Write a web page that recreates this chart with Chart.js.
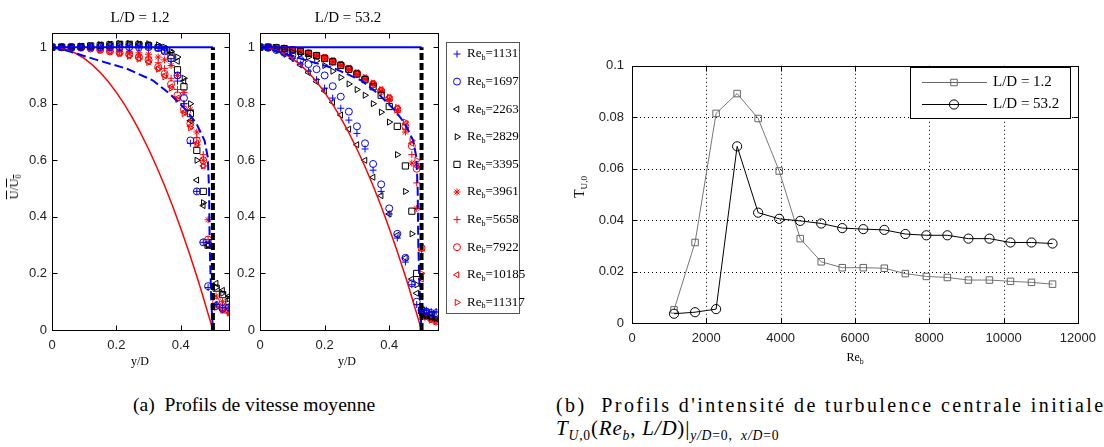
<!DOCTYPE html>
<html>
<head>
<meta charset="utf-8">
<title>Profils de vitesse moyenne et intensité de turbulence</title>
<script src="https://cdn.jsdelivr.net/npm/chart.js@4.4.1/dist/chart.umd.min.js"></script>
<style>
  body { margin: 0; width: 1104px; height: 447px; background: #fff; position: relative; overflow: hidden;
         font-family: "Liberation Serif", "Times New Roman", serif; color: #000; }
  canvas { position: absolute; }
  .t { position: absolute; white-space: nowrap; line-height: 1; }
  .c { transform: translate(-50%, -50%); }
  .rot { transform: translate(-50%, -50%) rotate(-90deg); }
  .sub { font-size: 0.65em; position: relative; top: 0.35em; }
  .ov { text-decoration: overline; }
</style>
</head>
<body>

<canvas id="cNear" width="235" height="340" style="left:0;top:20px"></canvas>
<canvas id="cFar" width="293" height="340" style="left:232px;top:20px"></canvas>
<canvas id="cTu" width="544" height="300" style="left:560px;top:50px"></canvas>

<div class="t c" style="left:140px;top:17px;font-size:15px">L/D = 1.2</div>
<div class="t c" style="left:348px;top:17px;font-size:15px">L/D = 53.2</div>
<div class="t c" style="left:140px;top:361px;font-size:12px">y/D</div>
<div class="t c" style="left:347px;top:361px;font-size:12px">y/D</div>
<div class="t rot" style="left:14px;top:187px;font-size:12px"><span class="ov">U</span>/<span class="ov">U<span class="sub">0</span></span></div>
<div class="t rot" style="left:580px;top:187px;font-size:14px">T<span class="sub">U,0</span></div>
<div class="t c" style="left:855px;top:357px;font-size:12px">Re<span class="sub">b</span></div>

<div class="t" style="left:133px;top:395px;font-size:19.6px">(a)&nbsp; Profils de vitesse moyenne</div>
<div class="t" style="left:556px;top:395px;font-size:20px;letter-spacing:2.4px">(b)&nbsp; Profils d'intensité de turbulence centrale initiale</div>
<div class="t" style="left:556px;top:418px;font-size:21px;letter-spacing:0.8px"><i>T</i><span class="sub"><i>U</i>,0</span>(<i>Re</i><span class="sub"><i>b</i></span>, <i>L/D</i>)|<span class="sub"><i>y/D</i>=0, &nbsp;<i>x/D</i>=0</span></div>

<script>
// tick values
const profileXTicks = [0, 0.2, 0.4];
const profileYTicks = [0, 0.2, 0.4, 0.6, 0.8, 1];
const reXTicks = [0, 2000, 4000, 6000, 8000, 10000, 12000];
const tuYTicks = [0, 0.02, 0.04, 0.06, 0.08, 0.1];

// Reynolds numbers in the velocity legend
const reLabels = ['1131', '1697', '2263', '2829', '3395', '3961', '5658', '7922', '10185', '11317'];

// reference curves
const laminarX = [0, 0.05, 0.1, 0.15, 0.2, 0.25, 0.3, 0.35, 0.4, 0.45, 0.5];
const laminarY = [1, 0.99, 0.96, 0.91, 0.84, 0.75, 0.64, 0.51, 0.36, 0.19, 0];
const turbX = [0, 0.045, 0.139, 0.232, 0.314, 0.366, 0.418, 0.449, 0.474, 0.484, 0.488, 0.49, 0.495, 0.5];
const turbY = [1, 0.988, 0.955, 0.924, 0.882, 0.835, 0.776, 0.729, 0.67, 0.611, 0.5, 0.3, 0.1, 0];
const plugX = [0, 0.5];
const plugY = [1, 1];
const wallX = [0.5, 0.5];
const wallY = [0, 1];

// L/D = 1.2 profiles
const posNear = [0, 0.03, 0.06, 0.09, 0.12, 0.15, 0.18, 0.21, 0.24, 0.27, 0.30, 0.33, 0.35, 0.37, 0.39, 0.41, 0.43, 0.45, 0.47, 0.485, 0.51, 0.53, 0.55];
const near1131 = [1, 1, 1, 1, 1, 1, 1, 1, 1, 1, 1, 0.995, 0.99, 0.95, 0.88, 0.80, 0.66, 0.49, 0.31, 0.15, 0.09, 0.08, 0.075];
const near1697 = [1, 1, 1, 1, 1, 1, 1, 1, 1, 1, 1, 0.997, 0.985, 0.96, 0.90, 0.82, 0.67, 0.49, 0.31, 0.155, 0.085, 0.075, 0.08];
const near2263 = [1, 1, 1, 1.003, 1.005, 1.008, 1.01, 1.01, 1.01, 1.01, 1.008, 1.003, 0.995, 0.98, 0.95, 0.88, 0.74, 0.53, 0.44, 0.30, 0.165, 0.14, 0.12];
const near2829 = [1, 1, 1, 1.004, 1.006, 1.009, 1.011, 1.013, 1.013, 1.013, 1.012, 1.008, 1.0, 0.985, 0.965, 0.89, 0.80, 0.60, 0.45, 0.30, 0.15, 0.13, 0.11];
const near3395 = [1, 1, 1, 1.002, 1.004, 1.006, 1.008, 1.01, 1.01, 1.008, 1.005, 0.998, 0.99, 0.97, 0.92, 0.86, 0.765, 0.635, 0.49, 0.30, 0.148, 0.125, 0.10];
const near3961 = [1, 1, 1, 1, 1, 0.998, 0.995, 0.99, 0.985, 0.98, 0.975, 0.965, 0.955, 0.935, 0.90, 0.84, 0.78, 0.70, 0.60, 0.39, 0.12, 0.10, 0.08];
const near5658 = [1, 1, 1, 1, 0.998, 0.995, 0.99, 0.985, 0.98, 0.972, 0.962, 0.945, 0.925, 0.89, 0.85, 0.80, 0.74, 0.68, 0.62, 0.32, 0.09, 0.07, 0.06];
const near7922 = [1, 1, 1, 0.998, 0.995, 0.99, 0.985, 0.98, 0.975, 0.965, 0.955, 0.93, 0.905, 0.87, 0.83, 0.78, 0.73, 0.67, 0.60, 0.32, 0.10, 0.08, 0.07];
const near10185 = [1, 1, 1, 0.998, 0.995, 0.99, 0.985, 0.978, 0.97, 0.96, 0.948, 0.925, 0.90, 0.86, 0.82, 0.77, 0.72, 0.66, 0.58, 0.30, 0.09, 0.07, 0.06];
const near11317 = [1, 1, 1, 0.998, 0.995, 0.99, 0.984, 0.977, 0.968, 0.958, 0.946, 0.922, 0.895, 0.855, 0.815, 0.765, 0.715, 0.655, 0.58, 0.30, 0.08, 0.07, 0.06];

// L/D = 53.2 profiles
const posFar = [0, 0.025, 0.05, 0.075, 0.1, 0.125, 0.15, 0.175, 0.2, 0.225, 0.25, 0.275, 0.3, 0.325, 0.35, 0.375, 0.4, 0.425, 0.45, 0.47, 0.485, 0.5, 0.515, 0.53, 0.545];
const far1131 = [1, 0.997, 0.988, 0.975, 0.96, 0.94, 0.915, 0.885, 0.855, 0.82, 0.784, 0.742, 0.695, 0.64, 0.565, 0.49, 0.41, 0.325, 0.24, 0.16, 0.09, 0.07, 0.07, 0.065, 0.065];
const far1697 = [1, 0.998, 0.99, 0.98, 0.97, 0.955, 0.94, 0.922, 0.9, 0.862, 0.825, 0.772, 0.72, 0.66, 0.587, 0.515, 0.43, 0.34, 0.255, 0.165, 0.1, 0.07, 0.065, 0.06, 0.06];
const far2263 = [1, 0.997, 0.99, 0.977, 0.96, 0.937, 0.91, 0.878, 0.845, 0.805, 0.76, 0.71, 0.655, 0.6, 0.54, 0.475, 0.41, 0.335, 0.255, 0.18, 0.13, 0.06, 0.05, 0.045, 0.04];
const far2829 = [1, 0.998, 0.995, 0.99, 0.983, 0.975, 0.965, 0.952, 0.935, 0.915, 0.893, 0.87, 0.85, 0.83, 0.8, 0.77, 0.735, 0.62, 0.49, 0.34, 0.16, 0.06, 0.05, 0.045, 0.04];
const far3395 = [1, 1, 0.998, 0.995, 0.99, 0.985, 0.978, 0.97, 0.96, 0.948, 0.935, 0.922, 0.905, 0.885, 0.86, 0.83, 0.79, 0.72, 0.58, 0.42, 0.2, 0.07, 0.06, 0.05, 0.05];
const far3961 = [1, 1, 0.998, 0.994, 0.99, 0.985, 0.978, 0.97, 0.962, 0.95, 0.937, 0.922, 0.905, 0.888, 0.87, 0.845, 0.815, 0.775, 0.7, 0.59, 0.43, 0.06, 0.05, 0.04, 0.035];
const far5658 = [1, 1, 0.998, 0.994, 0.99, 0.984, 0.977, 0.969, 0.96, 0.948, 0.935, 0.92, 0.903, 0.885, 0.865, 0.84, 0.81, 0.77, 0.71, 0.62, 0.52, 0.28, 0.05, 0.04, 0.035];
const far7922 = [1, 1, 0.998, 0.995, 0.99, 0.985, 0.978, 0.97, 0.962, 0.95, 0.937, 0.922, 0.906, 0.888, 0.868, 0.845, 0.818, 0.78, 0.72, 0.65, 0.57, 0.29, 0.05, 0.04, 0.03];
const far10185 = [1, 1, 0.998, 0.995, 0.99, 0.985, 0.979, 0.971, 0.963, 0.952, 0.94, 0.926, 0.91, 0.892, 0.872, 0.85, 0.822, 0.785, 0.73, 0.66, 0.58, 0.18, 0.045, 0.04, 0.03];
const far11317 = [1, 1, 0.998, 0.995, 0.99, 0.985, 0.979, 0.971, 0.963, 0.952, 0.94, 0.926, 0.91, 0.893, 0.873, 0.85, 0.823, 0.787, 0.735, 0.67, 0.6, 0.2, 0.045, 0.035, 0.03];

// initial centreline turbulence intensity vs Re_b
const reNumbers = [1131, 1697, 2263, 2829, 3395, 3961, 4527, 5092, 5658, 6224, 6790, 7356, 7922, 8487, 9053, 9619, 10185, 10750, 11317];
const tuNear = [0.0051, 0.0313, 0.0815, 0.0892, 0.0795, 0.0591, 0.0328, 0.0238, 0.0215, 0.0215, 0.0213, 0.0192, 0.0181, 0.0177, 0.0167, 0.0167, 0.0162, 0.0158, 0.0151];
const tuFar = [0.0036, 0.0042, 0.0054, 0.0687, 0.0429, 0.0405, 0.0397, 0.0387, 0.0369, 0.0365, 0.0362, 0.0346, 0.0341, 0.0341, 0.0328, 0.0328, 0.0313, 0.0313, 0.0309];

// marker look for each Re_b (same order as reLabels)
const markerLook = [
    { style: 'cross', rot: 0, color: '#0000ff', r: 3.5 },
    { style: 'circle', rot: 0, color: '#0000ff', r: 3.5 },
    { style: 'triangle', rot: -90, color: '#000000', r: 3.5 },
    { style: 'triangle', rot: 90, color: '#000000', r: 3.5 },
    { style: 'rect', rot: 0, color: '#000000', r: 4.4 },
    { style: 'star', rot: 0, color: '#ff0000', r: 3.5 },
    { style: 'cross', rot: 0, color: '#ff0000', r: 3.5 },
    { style: 'circle', rot: 0, color: '#ff0000', r: 3.5 },
    { style: 'triangle', rot: -90, color: '#ff0000', r: 3.5 },
    { style: 'triangle', rot: 90, color: '#ff0000', r: 3.5 }
];

const nearProfiles = [near1131, near1697, near2263, near2829, near3395, near3961, near5658, near7922, near10185, near11317];
const farProfiles = [far1131, far1697, far2263, far2829, far3395, far3961, far5658, far7922, far10185, far11317];

const tickFont = { family: '"Liberation Sans", Arial, sans-serif', size: 13 };
const serifStack = '"Liberation Serif", "Times New Roman", serif';

function pairs(xs, ys) {
    return xs.map((x, i) => ({ x: x, y: ys[i] }));
}

function drawMarker(ctx, look, x, y) {
    ctx.save();
    ctx.strokeStyle = look.color;
    ctx.fillStyle = 'rgba(0,0,0,0)';
    ctx.lineWidth = 1;
    if (Chart.helpers && Chart.helpers.drawPoint) {
        Chart.helpers.drawPoint(ctx, { pointStyle: look.style, rotation: look.rot, radius: look.r, borderWidth: 1 }, x, y);
    } else {
        ctx.beginPath();
        ctx.arc(x, y, look.r, 0, Math.PI * 2);
        ctx.stroke();
    }
    ctx.restore();
}

// box, inward ticks and (optionally) dotted grid, like the matlab axes
const framePlugin = {
    id: 'frame',
    beforeDatasetsDraw(chart, args, opts) {
        if (!opts.grid) return;
        const ctx = chart.ctx, a = chart.chartArea, sx = chart.scales.x, sy = chart.scales.y;
        ctx.save();
        ctx.strokeStyle = '#000';
        ctx.lineWidth = 1;
        ctx.setLineDash([1, 3]);
        sx.ticks.forEach(t => {
            const px = Math.round(sx.getPixelForValue(t.value)) + 0.5;
            if (px > a.left + 2 && px < a.right - 2) {
                ctx.beginPath(); ctx.moveTo(px, a.top); ctx.lineTo(px, a.bottom); ctx.stroke();
            }
        });
        sy.ticks.forEach(t => {
            const py = Math.round(sy.getPixelForValue(t.value)) + 0.5;
            if (py > a.top + 2 && py < a.bottom - 2) {
                ctx.beginPath(); ctx.moveTo(a.left, py); ctx.lineTo(a.right, py); ctx.stroke();
            }
        });
        ctx.restore();
    },
    afterDraw(chart, args, opts) {
        const ctx = chart.ctx, a = chart.chartArea, sx = chart.scales.x, sy = chart.scales.y;
        const L = Math.round(a.left) + 0.5, R = Math.round(a.right) + 0.5;
        const T = Math.round(a.top) + 0.5, B = Math.round(a.bottom) + 0.5;
        const len = opts.tick || 5;
        ctx.save();
        ctx.strokeStyle = '#000';
        ctx.lineWidth = 1;
        ctx.strokeRect(L, T, R - L, B - T);
        ctx.beginPath();
        sx.ticks.forEach(t => {
            const px = Math.round(sx.getPixelForValue(t.value)) + 0.5;
            ctx.moveTo(px, B); ctx.lineTo(px, B - len);
            ctx.moveTo(px, T); ctx.lineTo(px, T + len);
        });
        sy.ticks.forEach(t => {
            const py = Math.round(sy.getPixelForValue(t.value)) + 0.5;
            ctx.moveTo(L, py); ctx.lineTo(L + len, py);
            ctx.moveTo(R, py); ctx.lineTo(R - len, py);
        });
        ctx.stroke();
        ctx.restore();
    }
};

// Re_b legend to the right of the L/D = 53.2 panel
const reLegendPlugin = {
    id: 'reLegend',
    afterDraw(chart) {
        const ctx = chart.ctx;
        const ox = -232, oy = -20;
        ctx.save();
        ctx.fillStyle = '#fff';
        ctx.fillRect(446 + ox, 42 + oy, 73, 271);
        ctx.strokeStyle = '#555';
        ctx.lineWidth = 1;
        ctx.strokeRect(446.5 + ox, 42.5 + oy, 73, 271);
        reLabels.forEach((lab, i) => {
            const y = 54 + i * 27.6 + oy;
            drawMarker(ctx, markerLook[i], 457 + ox, y);
            ctx.fillStyle = '#000';
            ctx.textBaseline = 'middle';
            ctx.font = '13px ' + serifStack;
            let x = 467 + ox;
            ctx.fillText('Re', x, y);
            x += ctx.measureText('Re').width;
            ctx.font = '8px ' + serifStack;
            ctx.fillText('b', x, y + 4);
            x += ctx.measureText('b').width;
            ctx.font = '13px ' + serifStack;
            ctx.fillText('=' + lab, x, y);
        });
        ctx.restore();
    }
};

// L/D legend inside the turbulence panel
const tuLegendPlugin = {
    id: 'tuLegend',
    afterDraw(chart) {
        const ctx = chart.ctx;
        const ox = -560, oy = -50;
        const rows = [
            { text: 'L/D = 1.2', look: { style: 'rect', rot: 0, color: '#666', r: 4.6 }, line: '#666', y: 82 },
            { text: 'L/D = 53.2', look: { style: 'circle', rot: 0, color: '#000', r: 4.6 }, line: '#000', y: 104 }
        ];
        ctx.save();
        ctx.fillStyle = '#fff';
        ctx.fillRect(910 + ox, 67 + oy, 160, 51);
        ctx.strokeStyle = '#000';
        ctx.lineWidth = 1;
        ctx.strokeRect(910.5 + ox, 67.5 + oy, 160, 51);
        rows.forEach(r => {
            const y = r.y + oy + 0.5;
            ctx.strokeStyle = r.line;
            ctx.beginPath(); ctx.moveTo(922 + ox, y); ctx.lineTo(987 + ox, y); ctx.stroke();
            drawMarker(ctx, r.look, 954 + ox, y);
            ctx.fillStyle = '#000';
            ctx.textBaseline = 'middle';
            ctx.font = '15px ' + serifStack;
            ctx.fillText(r.text, 993 + ox, y);
        });
        ctx.restore();
    }
};

function profileDatasets(positions, profiles) {
    const lines = [
        { data: pairs(wallX, wallY), showLine: true, pointRadius: 0, borderColor: '#000', borderWidth: 4, borderDash: [7, 3] },
        { data: pairs(plugX, plugY), showLine: true, pointRadius: 0, borderColor: '#0000ff', borderWidth: 2 },
        { data: pairs(turbX, turbY), showLine: true, pointRadius: 0, borderColor: '#0000ff', borderWidth: 2, borderDash: [9, 4] },
        { data: pairs(laminarX, laminarY), showLine: true, pointRadius: 0, borderColor: '#ff0000', borderWidth: 1.5, cubicInterpolationMode: 'monotone' }
    ];
    const markers = profiles.map((ys, i) => {
        const m = markerLook[i];
        return {
            data: pairs(positions, ys),
            showLine: false,
            pointStyle: m.style,
            pointRotation: m.rot,
            pointRadius: m.r,
            pointBorderWidth: 1,
            borderColor: m.color,
            pointBorderColor: m.color,
            backgroundColor: 'rgba(0,0,0,0)',
            pointBackgroundColor: 'rgba(0,0,0,0)'
        };
    });
    return lines.concat(markers);
}

function profileOptions(axisWidth, padRight) {
    return {
        responsive: false,
        animation: false,
        events: [],
        layout: { padding: { top: 13, right: padRight, left: 0, bottom: 0 } },
        plugins: { legend: { display: false }, tooltip: { enabled: false }, frame: { tick: 5 } },
        scales: {
            x: {
                type: 'linear', min: 0, max: 0.55,
                grid: { display: false, drawTicks: false }, border: { display: false },
                afterBuildTicks: s => { s.ticks = profileXTicks.map(v => ({ value: v })); },
                afterFit: s => { s.height = 30; },
                ticks: { padding: 8, font: tickFont, color: '#222', maxRotation: 0, autoSkip: false, callback: v => String(v) }
            },
            y: {
                type: 'linear', min: 0, max: 1.05,
                grid: { display: false, drawTicks: false }, border: { display: false },
                afterBuildTicks: s => { s.ticks = profileYTicks.map(v => ({ value: v })); },
                afterFit: s => { s.width = axisWidth; },
                ticks: { padding: 5, font: tickFont, color: '#222', autoSkip: false, callback: v => String(v) }
            }
        }
    };
}

new Chart(document.getElementById('cNear'), {
    type: 'scatter',
    data: { datasets: profileDatasets(posNear, nearProfiles) },
    options: profileOptions(52, 6),
    plugins: [framePlugin]
});

new Chart(document.getElementById('cFar'), {
    type: 'scatter',
    data: { datasets: profileDatasets(posFar, farProfiles) },
    options: profileOptions(28, 87.3),
    plugins: [framePlugin, reLegendPlugin]
});

new Chart(document.getElementById('cTu'), {
    type: 'scatter',
    data: {
        datasets: [
            {
                label: 'L/D = 53.2',
                data: pairs(reNumbers, tuFar),
                showLine: true, borderColor: '#000', borderWidth: 1,
                pointStyle: 'circle', pointRadius: 4.6, pointBorderWidth: 1,
                pointBorderColor: '#000', pointBackgroundColor: 'rgba(0,0,0,0)'
            },
            {
                label: 'L/D = 1.2',
                data: pairs(reNumbers, tuNear),
                showLine: true, borderColor: '#777', borderWidth: 1,
                pointStyle: 'rect', pointRadius: 4.6, pointBorderWidth: 1,
                pointBorderColor: '#666', pointBackgroundColor: 'rgba(0,0,0,0)'
            }
        ]
    },
    options: {
        responsive: false,
        animation: false,
        events: [],
        layout: { padding: { top: 12, right: 25, left: 0, bottom: 0 } },
        plugins: { legend: { display: false }, tooltip: { enabled: false }, frame: { tick: 5, grid: true } },
        scales: {
            x: {
                type: 'linear', min: 0, max: 12000,
                grid: { display: false, drawTicks: false }, border: { display: false },
                afterBuildTicks: s => { s.ticks = reXTicks.map(v => ({ value: v })); },
                afterFit: s => { s.height = 27; },
                ticks: { padding: 8, font: tickFont, color: '#222', maxRotation: 0, autoSkip: false, callback: v => String(v) }
            },
            y: {
                type: 'linear', min: 0, max: 0.1,
                grid: { display: false, drawTicks: false }, border: { display: false },
                afterBuildTicks: s => { s.ticks = tuYTicks.map(v => ({ value: v })); },
                afterFit: s => { s.width = 72; },
                ticks: { padding: 8, font: tickFont, color: '#222', autoSkip: false, callback: v => String(v) }
            }
        }
    },
    plugins: [framePlugin, tuLegendPlugin]
});
</script>
</body>
</html>
